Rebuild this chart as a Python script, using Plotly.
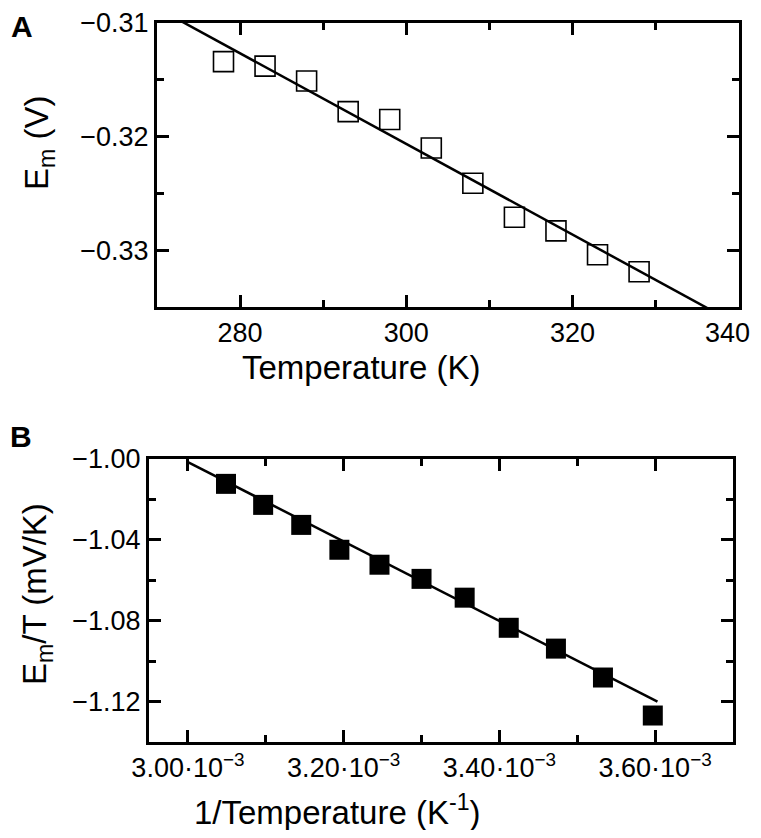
import plotly.graph_objects as go

# ---------------------------------------------------------------------------
# Data
# ---------------------------------------------------------------------------

# Panel A: midpoint potential vs temperature
TEMP_K = [278, 283, 288, 293, 298, 303, 308, 313, 318, 323, 328]
EM_V = [-0.3134, -0.3138, -0.3151, -0.3178, -0.3185, -0.3210,
        -0.3241, -0.3271, -0.3283, -0.3304, -0.3319]

# Panel B: Em/T vs 1/T
INV_TEMP = [3.0489e-3, 3.0966e-3, 3.1455e-3, 3.1945e-3, 3.2460e-3, 3.3000e-3,
            3.3554e-3, 3.4120e-3, 3.4726e-3, 3.5330e-3, 3.5970e-3]
EM_OVER_T = [-1.0123, -1.0227, -1.0326, -1.0449, -1.0523, -1.0593,
             -1.0686, -1.0835, -1.0938, -1.1081, -1.1269]

# Linear fits as drawn in the picture (slope, intercept, x span)
FIT_A_SLOPE = -0.000399
FIT_A_INTERCEPT = -0.20095
FIT_A_X = [270, 340]

FIT_B_SLOPE = -196.6
FIT_B_INTERCEPT = -0.4117
FIT_B_X = [3.00e-3, 3.603e-3]

# Tick labels (the last one is padded so it is not cut at the window edge)
A_X_TICKS = [280, 300, 320, 340]
A_X_TICKTEXT = ["280", "300", "320", "340\u00a0\u00a0\u00a0"]
A_Y_TICKS = [-0.31, -0.32, -0.33]
B_X_TICKVALS = [3.00e-3, 3.20e-3, 3.40e-3, 3.60e-3]
B_X_TICKTEXT = ["3.00·10<sup>−3</sup>", "3.20·10<sup>−3</sup>",
                "3.40·10<sup>−3</sup>", "3.60·10<sup>−3</sup>"]
B_X_MINOR = [3.10e-3, 3.30e-3, 3.50e-3]
B_Y_TICKS = [-1.00, -1.04, -1.08, -1.12]

FONT = "Liberation Sans, Arial, Helvetica, sans-serif"

# the page body has an 8px margin, so the figure is a bit smaller than the
# window and positions below are given in window pixels
PAGE_PAD = 8
W, H = 761 - PAGE_PAD, 838 - 2 * PAGE_PAD


def px_x(x):
    return (x - PAGE_PAD) / W


def px_y(y):
    return 1 - (y - PAGE_PAD) / H


fig = go.Figure()

# -- Panel A ----------------------------------------------------------------
fig.add_trace(go.Scatter(
    x=FIT_A_X,
    y=[FIT_A_SLOPE * x + FIT_A_INTERCEPT for x in FIT_A_X],
    mode="lines", line=dict(color="black", width=2.5),
    xaxis="x", yaxis="y", showlegend=False, hoverinfo="skip",
))
fig.add_trace(go.Scatter(
    x=TEMP_K, y=EM_V, mode="markers",
    marker=dict(symbol="square-open", size=20, color="black",
                line=dict(width=1.6, color="black")),
    xaxis="x", yaxis="y", showlegend=False,
))

# -- Panel B ----------------------------------------------------------------
fig.add_trace(go.Scatter(
    x=FIT_B_X,
    y=[FIT_B_SLOPE * x + FIT_B_INTERCEPT for x in FIT_B_X],
    mode="lines", line=dict(color="black", width=2.5),
    xaxis="x2", yaxis="y2", showlegend=False, hoverinfo="skip",
))
fig.add_trace(go.Scatter(
    x=INV_TEMP, y=EM_OVER_T, mode="markers",
    marker=dict(symbol="square", size=20, color="black"),
    xaxis="x2", yaxis="y2", showlegend=False,
))

axis_common = dict(
    showline=True, linecolor="black", linewidth=3, mirror="ticks",
    ticks="inside", ticklen=12, tickwidth=3, tickcolor="black",
    showgrid=False, zeroline=False, automargin=False,
    ticklabeloverflow="allow",
    tickfont=dict(family=FONT, size=27, color="black"),
)

fig.update_layout(
    template="none",
    width=W, height=H,
    margin=dict(l=0, r=0, t=0, b=0, pad=0),
    paper_bgcolor="white", plot_bgcolor="white",
    font=dict(family=FONT, color="black"),
    xaxis=dict(
        axis_common, domain=[px_x(157), px_x(739)], anchor="y",
        range=[270, 340.02], tickmode="array", tickvals=A_X_TICKS,
        ticktext=A_X_TICKTEXT,
        minor=dict(dtick=10, tick0=270, ticklen=7, tickwidth=3,
                   ticks="inside", tickcolor="black"),
    ),
    yaxis=dict(
        axis_common, domain=[px_y(307), px_y(23)], anchor="x",
        range=[-0.335, -0.31], tickmode="array", tickvals=A_Y_TICKS,
        tickformat=".2f",
        minor=dict(dtick=0.005, tick0=-0.31, ticklen=7, tickwidth=3,
                   ticks="inside", tickcolor="black"),
    ),
    xaxis2=dict(
        axis_common, domain=[px_x(149), px_x(733)], anchor="y2",
        range=[2.95e-3, 3.70e-3], tickmode="array",
        tickvals=B_X_TICKVALS, ticktext=B_X_TICKTEXT,
        minor=dict(tickmode="array", tickvals=B_X_MINOR, ticklen=7,
                   tickwidth=3, ticks="inside", tickcolor="black"),
    ),
    yaxis2=dict(
        axis_common, domain=[px_y(742), px_y(459)], anchor="x2",
        range=[-1.14, -1.00], tickmode="array", tickvals=B_Y_TICKS,
        tickformat=".2f",
        minor=dict(dtick=0.02, tick0=-1.00, ticklen=7, tickwidth=3,
                   ticks="inside", tickcolor="black"),
    ),
)

title_font = dict(family=FONT, size=33, color="black")
annotations = [
    dict(text="<b>A</b>", x=px_x(22), y=1.0, yanchor="top",
         font=dict(family=FONT, size=30, color="black")),
    dict(text="<b>B</b>", x=px_x(21), y=px_y(436), yanchor="middle",
         font=dict(family=FONT, size=30, color="black")),
    dict(text="Temperature (K)", x=px_x(361), y=px_y(367), yanchor="middle",
         font=title_font),
    dict(text="E<sub>m</sub> (V)", x=px_x(39), y=px_y(143), yanchor="middle",
         textangle=-90, font=title_font),
    dict(text="1/Temperature (K<sup>-1</sup>)", x=px_x(337), y=px_y(810),
         yanchor="middle", font=title_font),
    dict(text="E<sub>m</sub>/T (mV/K)", x=px_x(37), y=px_y(594),
         yanchor="middle", textangle=-90, font=title_font),
]
for a in annotations:
    fig.add_annotation(xref="paper", yref="paper", showarrow=False,
                       xanchor="center", **a)

fig.write_html("out.html")
